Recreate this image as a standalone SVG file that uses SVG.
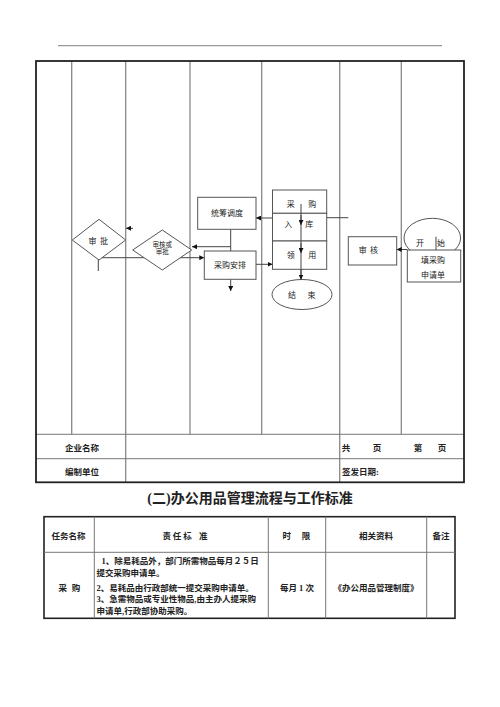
<svg xmlns="http://www.w3.org/2000/svg" width="500" height="707" viewBox="0 0 500 707">
<defs>
<style>
text{font-family:"Liberation Serif","Noto Sans CJK SC",serif;fill:#222;}
.t{font-size:8px;text-anchor:middle;}
.s{font-size:6.5px;text-anchor:middle;}
.b{font-size:8.5px;font-weight:bold;}
.c{text-anchor:middle;}
.lane{stroke:#888;stroke-width:1.3;fill:none;}
.frame{stroke:#222;stroke-width:1.8;fill:none;}
.grid{stroke:#777;stroke-width:1;fill:none;}
.shape{stroke:#555;stroke-width:1;fill:#fff;}
.con{stroke:#444;stroke-width:1;fill:none;}
</style>
<marker id="ah" viewBox="0 0 10 10" refX="10" refY="5" markerWidth="5" markerHeight="5" orient="auto" markerUnits="userSpaceOnUse">
<path d="M0,0 L10,5 L0,10 z" fill="#111"/>
</marker>
</defs>
<rect width="500" height="707" fill="#fff"/>
<line x1="58" y1="45.7" x2="442" y2="45.7" stroke="#999" stroke-width="1.3"/>

<g id="lanes">
<line class="lane" x1="71.7" y1="61" x2="71.7" y2="434.3"/>
<line class="lane" x1="125.7" y1="61" x2="125.7" y2="482"/>
<line class="lane" x1="190" y1="61" x2="190" y2="434.3"/>
<line class="lane" x1="261.7" y1="61" x2="261.7" y2="434.3"/>
<line class="lane" x1="339.7" y1="61" x2="339.7" y2="482"/>
<line class="lane" x1="401.3" y1="61" x2="401.3" y2="434.3"/>
<line class="grid" x1="36" y1="434.3" x2="464" y2="434.3"/>
<line class="grid" x1="36" y1="458.7" x2="464" y2="458.7"/>
<rect class="frame" x="36" y="61" width="428" height="421.3"/>
</g>

<g id="footer">
<text class="b c" x="82" y="451">企业名称</text>
<text class="b c" x="82" y="474.5">编制单位</text>
<text class="b c" x="346" y="451">共</text>
<text class="b c" x="377" y="451">页</text>
<text class="b c" x="418" y="451">第</text>
<text class="b c" x="442" y="451">页</text>
<text class="b" x="342" y="474.5">签发日期:</text>
</g>

<g id="connectors">
<line class="con" x1="133" y1="228.3" x2="126" y2="228.3" marker-end="url(#ah)"/>
<line class="con" x1="98.3" y1="247.7" x2="98.3" y2="271"/>
<line class="con" x1="99" y1="257.7" x2="204.3" y2="257.7" marker-end="url(#ah)"/>
<line class="con" x1="230.7" y1="229.3" x2="230.7" y2="251"/>
<line class="con" x1="230.7" y1="246.7" x2="192" y2="246.7" marker-end="url(#ah)"/>
<line class="con" x1="230.7" y1="279.3" x2="230.7" y2="291" marker-end="url(#ah)"/>
<line class="con" x1="256" y1="264.3" x2="272.5" y2="264.3" marker-end="url(#ah)"/>
<line class="con" x1="272.5" y1="218" x2="256" y2="218" marker-end="url(#ah)"/>
<line class="con" x1="326.7" y1="217.7" x2="348.3" y2="217.7"/>
<line class="con" x1="407.3" y1="249.5" x2="396.7" y2="249.5" marker-end="url(#ah)"/>
</g>

<g id="n-shenpi">
<polygon class="shape" points="72.3,240 99,219.3 125.7,240 99,260" fill="none"/>
<text class="t" x="92.5" y="244">审</text>
<text class="t" x="104" y="244">批</text>
</g>
<g id="n-shenhe-shenpi">
<polygon class="shape" points="132.7,250 162.3,230 191.7,250 162.3,270"/>
<text class="s" x="162.3" y="246.5">审核或</text>
<text class="s" x="162.3" y="253.5">审批</text>
</g>
<g id="n-tongchou">
<rect class="shape" x="197.7" y="197.3" width="58.3" height="32"/>
<text class="t" x="227" y="216">统筹调度</text>
</g>
<g id="n-caigou-anpai">
<rect class="shape" x="204.3" y="251" width="51.7" height="28.3"/>
<text class="t" x="230" y="268">采购安排</text>
</g>
<g id="n-caigou">
<rect class="shape" x="272.5" y="190" width="54.2" height="23.3"/>
<text class="t" x="290.7" y="206.5">采</text>
<text class="t" x="312.3" y="206.5">购</text>
</g>
<g id="n-ruku">
<rect class="shape" x="272.5" y="213.3" width="54.2" height="27.7"/>
<text class="t" x="288.3" y="227">入</text>
<text class="t" x="309.3" y="227">库</text>
</g>
<g id="n-lingyong">
<rect class="shape" x="272.5" y="241" width="54.2" height="28.3"/>
<text class="t" x="290.7" y="257.5">领</text>
<text class="t" x="312.3" y="257.5">用</text>
</g>
<g id="n-jieshu">
<ellipse class="shape" cx="302" cy="294.5" rx="30" ry="15"/>
<text class="t" x="292" y="297.5">结</text>
<text class="t" x="311.5" y="297.5">束</text>
</g>
<g id="flow-down">
<line class="con" x1="301" y1="204" x2="301" y2="279.5"/>
<line class="con" x1="301" y1="215" x2="301" y2="225" marker-end="url(#ah)"/>
<line class="con" x1="301" y1="243" x2="301" y2="253" marker-end="url(#ah)"/>
<line class="con" x1="301" y1="269" x2="301" y2="279.5" marker-end="url(#ah)"/>
</g>
<g id="n-shenhe">
<rect class="shape" x="348.3" y="236.7" width="48.4" height="28.3"/>
<text class="t" x="362.7" y="253">审</text>
<text class="t" x="374" y="253">核</text>
</g>
<g id="n-kaishi">
<ellipse class="shape" cx="432.3" cy="238" rx="28.3" ry="19.7"/>
<line class="con" x1="436" y1="236.7" x2="436" y2="250"/>
<text class="t" x="420" y="246">开</text>
<text class="t" x="441" y="246">始</text>
</g>
<g id="n-tian">
<rect class="shape" x="407.3" y="250" width="53.4" height="32"/>
<text class="t" x="433" y="262.5">填采购</text>
<text class="t" x="433" y="277.5">申请单</text>
</g>

<text x="250" y="503" text-anchor="middle" style="font-size:14px;font-weight:bold">(二)办公用品管理流程与工作标准</text>

<g id="table">
<rect x="44" y="516.7" width="411" height="101.6" fill="none" stroke="#222" stroke-width="1.6"/>
<line class="grid" x1="44" y1="552.3" x2="455" y2="552.3"/>
<line class="grid" x1="94.3" y1="516.7" x2="94.3" y2="618.3"/>
<line class="grid" x1="268.3" y1="516.7" x2="268.3" y2="618.3"/>
<line class="grid" x1="325.7" y1="516.7" x2="325.7" y2="618.3"/>
<line class="grid" x1="426.7" y1="516.7" x2="426.7" y2="618.3"/>
<text class="b c" x="68.5" y="539">任务名称</text>
<text class="b c" x="166.7" y="539">责</text>
<text class="b c" x="177" y="539">任</text>
<text class="b c" x="187.5" y="539">标</text>
<text class="b c" x="203.3" y="539">准</text>
<text class="b c" x="286.7" y="539">时</text>
<text class="b c" x="306" y="539">限</text>
<text class="b c" x="376" y="539">相关资料</text>
<text class="b c" x="441" y="539">备注</text>
<text class="b c" x="62.7" y="590.5">采</text>
<text class="b c" x="76" y="590.5">购</text>
<text class="b c" x="297" y="590.5">每月 1 次</text>
<text class="b c" x="376" y="590.5">《办公用品管理制度》</text>
<text class="b" x="101.5" y="564">1、除易耗品外，部门所需物品每月２５日</text>
<text class="b" x="96.5" y="575.5">提交采购申请单。</text>
<text class="b" x="96.5" y="590.5">2、易耗品由行政部统一提交采购申请单。</text>
<text class="b" x="96.5" y="602">3、急需物品或专业性物品,由主办人提采购</text>
<text class="b" x="96.5" y="613.5">申请单,行政部协助采购。</text>
</g>
</svg>
